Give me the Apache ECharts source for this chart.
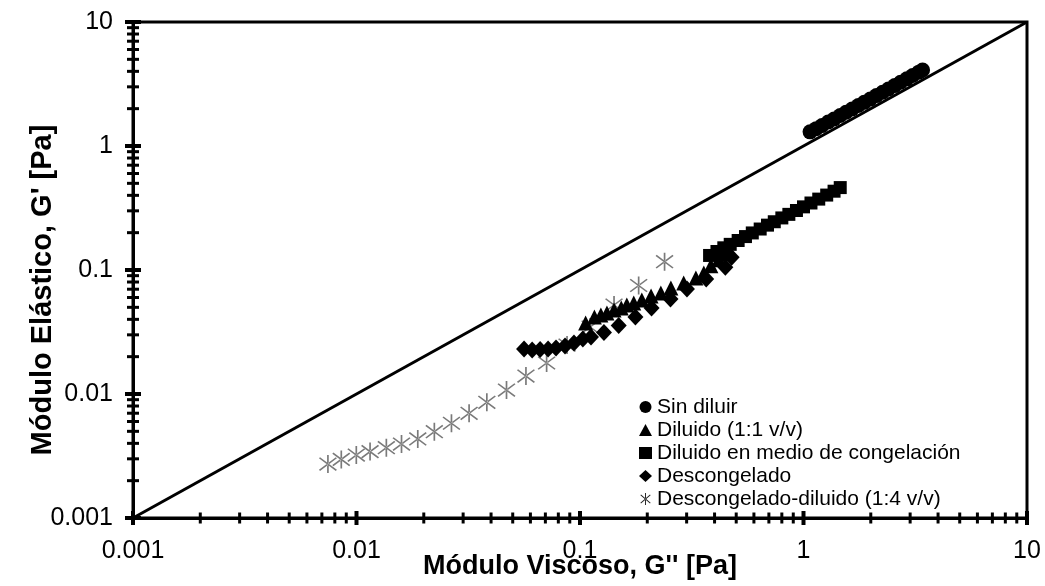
<!DOCTYPE html>
<html>
<head>
<meta charset="utf-8">
<script src="https://cdn.jsdelivr.net/npm/echarts@6/dist/echarts.min.js"></script>
<style>
  html, body { margin: 0; padding: 0; background: #fff; }
  #main { width: 1045px; height: 586px; }
</style>
</head>
<body>
<div id="main"></div>
<script>
// datos (G'' , G')
var sinDiluir = [
  [1.07, 1.30], [1.14, 1.38], [1.21, 1.46], [1.29, 1.56], [1.37, 1.65],
  [1.46, 1.76], [1.55, 1.87], [1.65, 1.99], [1.76, 2.12], [1.87, 2.25],
  [1.99, 2.39], [2.12, 2.55], [2.26, 2.71], [2.40, 2.88], [2.56, 3.07],
  [2.72, 3.27], [2.90, 3.48], [3.08, 3.70], [3.28, 3.94], [3.41, 4.10]
];
var diluido11 = [
  [0.106, 0.0374], [0.116, 0.0418], [0.124, 0.0434], [0.132, 0.0450],
  [0.142, 0.0476], [0.153, 0.0494], [0.162, 0.0522], [0.174, 0.0542],
  [0.189, 0.0573], [0.208, 0.0617], [0.230, 0.0653], [0.255, 0.0716],
  [0.291, 0.0785], [0.330, 0.0862], [0.358, 0.0946], [0.385, 0.108],
  [0.417, 0.121], [0.453, 0.135]
];
var diluidoMedio = [
  [0.38, 0.131], [0.41, 0.141], [0.44, 0.151], [0.47, 0.161], [0.51, 0.173],
  [0.55, 0.186], [0.59, 0.199], [0.64, 0.214], [0.69, 0.230], [0.74, 0.245],
  [0.80, 0.263], [0.86, 0.281], [0.93, 0.302], [1.00, 0.323], [1.08, 0.347],
  [1.17, 0.373], [1.27, 0.402], [1.37, 0.432], [1.46, 0.462]
];
var descongelado = [
  [0.0562, 0.0231], [0.0611, 0.0226], [0.0663, 0.0229], [0.0720, 0.0231],
  [0.0781, 0.0235], [0.0857, 0.0244], [0.0940, 0.0258], [0.103, 0.0278],
  [0.112, 0.0288], [0.128, 0.0313], [0.149, 0.0357], [0.177, 0.0418],
  [0.209, 0.0494], [0.254, 0.0583], [0.301, 0.0703], [0.367, 0.0846],
  [0.447, 0.105], [0.477, 0.127]
];
var descDiluido = [
  [0.00745, 0.00272], [0.00855, 0.00297], [0.00998, 0.00322], [0.0115, 0.00343],
  [0.0136, 0.00369], [0.0159, 0.00395], [0.0188, 0.00434], [0.0223, 0.00497],
  [0.0266, 0.00581], [0.0319, 0.00699], [0.0383, 0.00857], [0.0469, 0.01076],
  [0.0573, 0.01396], [0.0709, 0.01778], [0.0875, 0.0248], [0.111, 0.0347],
  [0.142, 0.0522], [0.183, 0.0750], [0.239, 0.1166]
];
var decadas = [0.001, 0.01, 0.1, 1, 10];
var menores = [2, 3, 4, 5, 6, 7, 8, 9];
var nombres = ['Sin diluir', 'Diluido (1:1 v/v)', 'Diluido en medio de congelación',
  'Descongelado', 'Descongelado-diluido (1:4 v/v)'];

var asterisco = 'path://M46,0 L54,0 L54,100 L46,100 Z M12.6,11.9 L92.6,81.9 L87.4,88.1 L7.4,18.1 Z M87.4,11.9 L7.4,81.9 L12.6,88.1 L92.6,18.1 Z';

// marcas de los ejes (cruzan la linea del eje)
var ticksXMayor = [], ticksXMenor = [], ticksYMayor = [], ticksYMenor = [];
decadas.forEach(function (d, i) {
  ticksXMayor.push([d, 0.001]);
  ticksYMayor.push([0.001, d]);
  if (i < decadas.length - 1) {
    menores.forEach(function (m) {
      ticksXMenor.push([d * m, 0.001]);
      ticksYMenor.push([0.001, d * m]);
    });
  }
});

function fmt(v) {
  return String(Number(v.toPrecision(6)));
}

var myChart = echarts.init(document.getElementById('main'));

function marcas(data, size) {
  return {
    type: 'scatter',
    data: data,
    symbol: 'rect',
    symbolSize: size,
    itemStyle: { color: '#000', opacity: 1 },
    silent: true,
    clip: false,
    z: 5
  };
}

function puntos(nombre, data, symbol, size, color, z) {
  return {
    name: nombre, type: 'scatter', data: data,
    symbol: symbol, symbolSize: size,
    itemStyle: { color: color, opacity: 1 },
    emphasis: { disabled: true },
    z: z
  };
}

var option = {
  animation: false,
  grid: {
    left: 133, right: 18, top: 22, bottom: 68,
    outerBoundsMode: 'none',
    show: true, borderColor: '#000', borderWidth: 3
  },
  legend: {
    data: nombres.map(function (n, i) {
      return i === 4 ? { name: n, itemStyle: { color: '#222' } } : n;
    }),
    orient: 'vertical',
    left: 639, top: 396,
    itemWidth: 13, itemHeight: 12, itemGap: 1,
    textStyle: { fontFamily: 'Liberation Sans', fontSize: 21, color: '#000', lineHeight: 22 },
    padding: 0
  },
  xAxis: {
    type: 'log', logBase: 10, min: 0.001, max: 10,
    name: "Módulo Viscoso, G'' [Pa]",
    nameLocation: 'middle', nameGap: 35, nameMoveOverlap: false,
    nameTextStyle: { fontFamily: 'Liberation Sans', fontWeight: 'bold', fontSize: 27, color: '#000' },
    axisLine: { lineStyle: { color: '#000', width: 3 } },
    axisTick: { show: false },
    splitLine: { show: false },
    axisLabel: { fontFamily: 'Liberation Sans', fontSize: 25, color: '#000', margin: 21, formatter: fmt }
  },
  yAxis: {
    type: 'log', logBase: 10, min: 0.001, max: 10,
    name: "Módulo Elástico, G' [Pa]",
    nameLocation: 'middle', nameGap: 76, nameMoveOverlap: false,
    nameTextStyle: { fontFamily: 'Liberation Sans', fontWeight: 'bold', fontSize: 29, color: '#000', padding: [0, 40, 0, 0] },
    axisLine: { lineStyle: { color: '#000', width: 3 } },
    axisTick: { show: false },
    splitLine: { show: false },
    axisLabel: { fontFamily: 'Liberation Sans', fontSize: 25, color: '#000', margin: 20, formatter: fmt }
  },
  series: [
    {
      type: 'line', data: [[0.001, 0.001], [10, 10]],
      showSymbol: false, silent: true,
      lineStyle: { color: '#000', width: 3 }, z: 1
    },
    marcas(ticksXMenor, [3, 11]),
    marcas(ticksXMayor, [4, 14]),
    marcas(ticksYMenor, [12, 3]),
    marcas(ticksYMayor, [16, 4]),
    puntos(nombres[4], descDiluido, asterisco, 18, '#7a7a7a', 2),
    puntos(nombres[3], descongelado, 'diamond', [16, 17], '#000', 3),
    puntos(nombres[1], diluido11, 'triangle', 15, '#000', 3),
    puntos(nombres[2], diluidoMedio, 'rect', 13, '#000', 3),
    puntos(nombres[0], sinDiluir, 'circle', 15, '#000', 3)
  ]
};

myChart.setOption(option);
</script>
</body>
</html>
